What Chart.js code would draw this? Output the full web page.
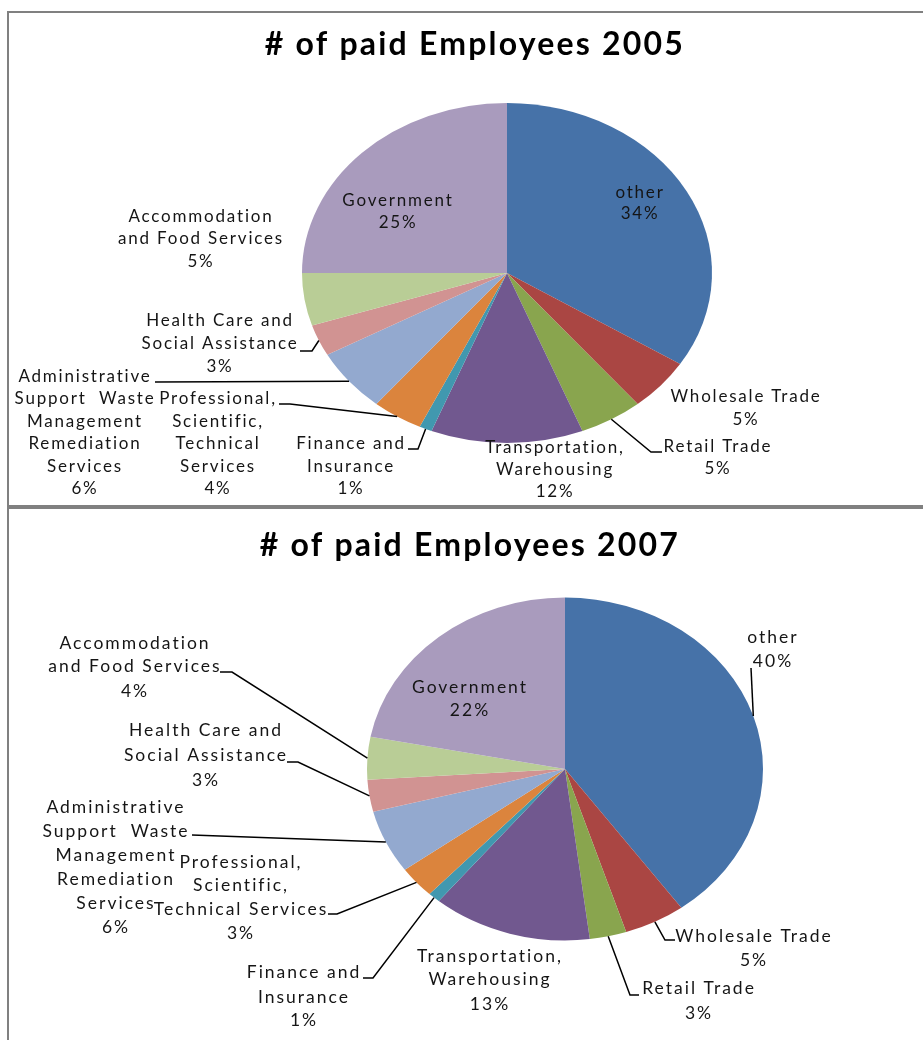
<!DOCTYPE html>
<html>
<head>
<meta charset="utf-8">
<title>Paid Employees 2005 / 2007</title>
<script src="https://cdn.jsdelivr.net/npm/chart.js@4.4.1/dist/chart.umd.min.js"></script>
<style>
    html, body { margin: 0; padding: 0; background: #fff; overflow: hidden; }
    #page { position: relative; width: 923px; height: 1040px; }
    .frame { position: absolute; border: 2px solid #808080; }
    canvas { position: absolute; left: 0; }
</style>
</head>
<body>
<div id="page">
    <div class="frame" style="left:7px; top:11px; width:940px; height:494px;"></div>
    <div class="frame" style="left:7px; top:505px; width:940px; height:560px;"></div>
    <canvas id="pie2005" width="923" height="506" style="top:0"></canvas>
    <canvas id="pie2007" width="923" height="534" style="top:506px"></canvas>
</div>

<script>
// Industry categories, clockwise from 12 o'clock
const categories = [
    'other',
    'Wholesale Trade',
    'Retail Trade',
    'Transportation, Warehousing',
    'Finance and Insurance',
    'Professional, Scientific, Technical Services',
    'Administrative Support  Waste Management Remediation Services',
    'Health Care and Social Assistance',
    'Accommodation and Food Services',
    'Government'
];

// share of paid employees, %
const values2005 = [34, 5, 5, 12, 1, 4, 6, 3, 5, 25];
const values2007 = [40, 5, 3, 13, 1, 3, 6, 3, 4, 22];

const sliceColors = [
    '#4672A8', '#AA4643', '#89A54E', '#71588F', '#4198AF',
    '#DB843D', '#93A9CF', '#D19392', '#B9CD96', '#A99BBD'
];

// Data label placement (name lines + optional leader polyline), same order as categories
const labels2005 = [
    { x: 640, y: [193, 214], lines: ['other'] },
    { x: 746, y: [397, 420], lines: ['Wholesale Trade'] },
    { x: 718, y: [447, 469], lines: ['Retail Trade'], lead: [[662, 452], [651, 452]] },
    { x: 555, y: [448, 470, 492], lines: ['Transportation,', 'Warehousing'] },
    { x: 351, y: [444, 467, 489], lines: ['Finance and', 'Insurance'], lead: [[408, 449], [418, 449]] },
    { x: 218, y: [399, 422, 444, 467, 489], lines: ['Professional,', 'Scientific,', 'Technical', 'Services'], lead: [[279, 404], [290, 404]] },
    { x: 85, y: [377, 399, 422, 444, 467, 489], lines: ['Administrative', 'Support  Waste', 'Management', 'Remediation', 'Services'], lead: [[155, 382]] },
    { x: 220, y: [321, 344, 367], lines: ['Health Care and', 'Social Assistance'], lead: [[300, 351], [312, 351]] },
    { x: 201, y: [217, 239, 262], lines: ['Accommodation', 'and Food Services'] },
    { x: 398, y: [201, 223], lines: ['Government'] }
];

const labels2007 = [
    { x: 773, y: [131, 155], lines: ['other'], lead: [[751, 162]] },
    { x: 754, y: [430, 454], lines: ['Wholesale Trade'], lead: [[675, 434], [665, 434]] },
    { x: 699, y: [482, 507], lines: ['Retail Trade'], lead: [[639, 489], [630, 489]] },
    { x: 490, y: [450, 473, 498], lines: ['Transportation,', 'Warehousing'] },
    { x: 304, y: [466, 491, 514], lines: ['Finance and', 'Insurance'], lead: [[363, 472], [373, 472]] },
    { x: 241, y: [356, 379, 403, 427], lines: ['Professional,', 'Scientific,', 'Technical Services'], lead: [[328, 408], [337, 408]] },
    { x: 116, y: [301, 325, 349, 373, 397, 421], lines: ['Administrative', 'Support  Waste', 'Management', 'Remediation', 'Services'], lead: [[192, 329]] },
    { x: 206, y: [224, 249, 274], lines: ['Health Care and', 'Social Assistance'], lead: [[287, 256], [298, 256]] },
    { x: 135, y: [137, 160, 185], lines: ['Accommodation', 'and Food Services'], lead: [[220, 166], [232, 166]] },
    { x: 470, y: [181, 204], lines: ['Government'] }
];

// squashes the pie vertically into an ellipse
const squash = {
    id: 'squash',
    beforeDatasetsDraw(chart, args, opts) {
        const arc = chart.getDatasetMeta(0).data[0];
        const ctx = chart.ctx;
        ctx.save();
        ctx.translate(arc.x, arc.y);
        ctx.scale(1, opts.k);
        ctx.translate(-arc.x, -arc.y);
    },
    afterDatasetsDraw(chart) {
        chart.ctx.restore();
    }
};

// title, data labels and leader lines
const pieText = {
    id: 'pieText',
    afterDraw(chart, args, opts) {
        const ctx = chart.ctx;
        const k = chart.options.plugins.squash.k;
        const values = chart.data.datasets[0].data;
        const total = values.reduce((a, b) => a + b, 0);
        const arcs = chart.getDatasetMeta(0).data;

        ctx.save();
        ctx.fillStyle = '#000';
        ctx.textAlign = 'center';
        ctx.textBaseline = 'middle';
        ctx.font = 'bold 32px Lato';
        ctx.letterSpacing = '2.2px';
        ctx.fillText(opts.title, opts.titleX, opts.titleY);

        ctx.strokeStyle = '#000';
        ctx.lineWidth = 1.5;
        opts.labels.forEach((lab, i) => {
            if (!lab.lead) return;
            const arc = arcs[i];
            const mid = (arc.startAngle + arc.endAngle) / 2;
            const ex = arc.x + Math.cos(mid) * arc.outerRadius;
            const ey = arc.y + Math.sin(mid) * arc.outerRadius * k;
            ctx.beginPath();
            ctx.moveTo(lab.lead[0][0], lab.lead[0][1]);
            lab.lead.slice(1).forEach(p => ctx.lineTo(p[0], p[1]));
            ctx.lineTo(ex, ey);
            ctx.stroke();
        });

        ctx.fillStyle = '#151515';
        ctx.font = opts.font;
        ctx.letterSpacing = opts.spacing;
        opts.labels.forEach((lab, i) => {
            const pct = Math.round(values[i] / total * 100) + '%';
            const rows = lab.lines.concat(pct);
            rows.forEach((txt, j) => ctx.fillText(txt, lab.x, lab.y[j]));
        });
        ctx.restore();
    }
};

function makePie(id, values, padding, k, text) {
    return new Chart(document.getElementById(id), {
        type: 'pie',
        data: {
            labels: categories,
            datasets: [{
                data: values,
                backgroundColor: sliceColors,
                borderWidth: 0
            }]
        },
        options: {
            responsive: false,
            animation: false,
            layout: { padding: padding },
            plugins: {
                legend: { display: false },
                tooltip: { enabled: false },
                squash: { k: k },
                pieText: text
            }
        },
        plugins: [squash, pieText]
    });
}

makePie('pie2005', values2005,
    { left: 302, right: 211, top: 68, bottom: 28 }, 0.829,
    { title: '# of paid Employees 2005', titleX: 475, titleY: 45,
      font: '17px Lato', spacing: '1.8px', labels: labels2005 });

makePie('pie2007', values2007,
    { left: 367, right: 160, top: 65, bottom: 73 }, 0.866,
    { title: '# of paid Employees 2007', titleX: 470, titleY: 40,
      font: '17.5px Lato', spacing: '2px', labels: labels2007 });
</script>
</body>
</html>
